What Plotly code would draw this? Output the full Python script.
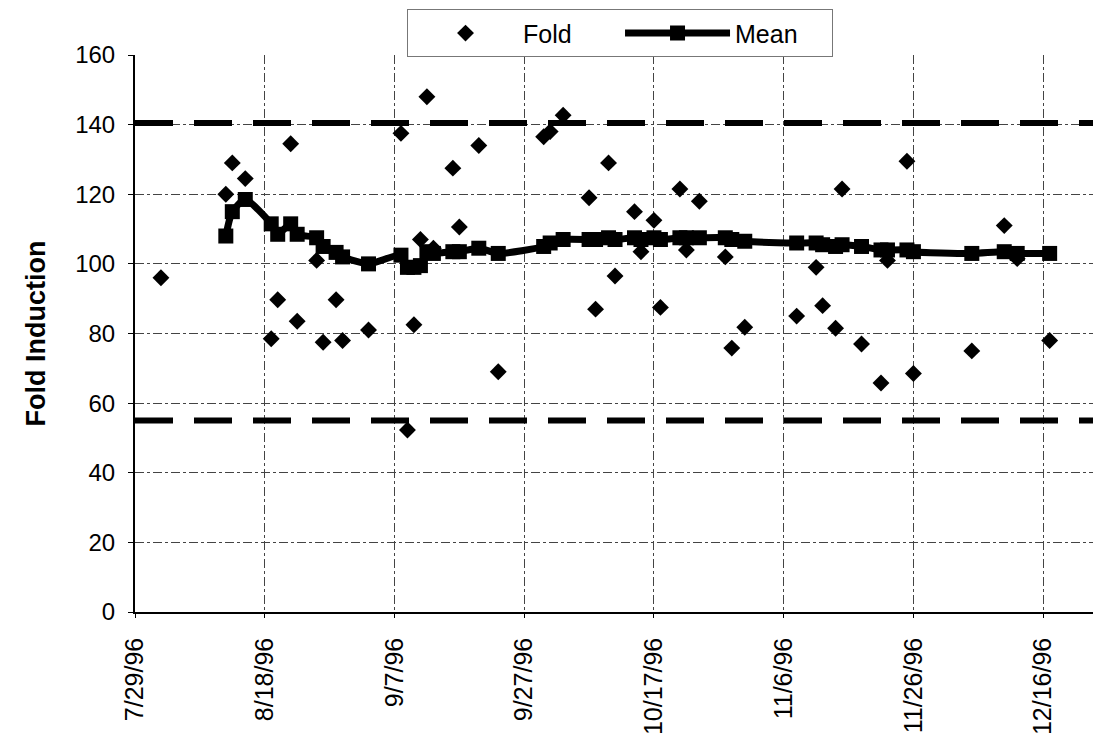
import plotly.graph_objects as go
import pandas as pd

# ---- data ----
fold_dates = ['8/2', '8/12', '8/13', '8/15', '8/19', '8/20', '8/22', '8/23', '8/26', '8/27',
              '8/29', '8/30', '9/3', '9/8', '9/9', '9/10', '9/11', '9/12', '9/13', '9/16',
              '9/17', '9/20', '9/23', '9/30', '10/1', '10/3', '10/7', '10/8', '10/10', '10/11',
              '10/14', '10/15', '10/17', '10/18', '10/21', '10/22', '10/24', '10/28', '10/29', '10/31',
              '11/8', '11/11', '11/12', '11/14', '11/15', '11/18', '11/21', '11/22', '11/25', '11/26',
              '12/5', '12/10', '12/12', '12/17']
fold_values = [96, 120, 129, 124.5, 78.5, 89.7, 134.5, 83.5, 101, 77.5,
               89.7, 78, 81, 137.5, 52.3, 82.5, 107, 148, 104.5, 127.5,
               110.6, 134, 69, 136.5, 138, 142.7, 119, 87, 129, 96.5,
               115, 103.5, 112.5, 87.5, 121.5, 104, 118, 102, 75.8, 81.8,
               85, 99, 88, 81.5, 121.5, 77, 65.8, 101, 129.5, 68.5,
               75, 111, 101.5, 78]

mean_dates = fold_dates[1:]
mean_values = [108, 115, 118.5, 111.5, 108.5, 111.5, 108.5, 107.5, 105,
               103.3, 102, 100, 102.5, 99, 99, 99.5, 103.5, 103, 103.5,
               103.5, 104.5, 103, 105, 106, 107, 107, 107, 107.5, 107,
               107.5, 107, 107.5, 107, 107.5, 107.5, 107.5, 107.5, 107, 106.5,
               106, 106, 105.5, 105, 105.5, 105, 104, 104, 104, 103.5,
               103, 103.5, 103, 103]

x_tick_dates = ['7/29', '8/18', '9/7', '9/27', '10/17', '11/6', '11/26', '12/16']
x_tick_labels = ['7/29/96', '8/18/96', '9/7/96', '9/27/96', '10/17/96', '11/6/96', '11/26/96', '12/16/96']
y_tick_values = [0, 20, 40, 60, 80, 100, 120, 140, 160]

upper_limit = 140.5
lower_limit = 55


def to_dt(lst):
    return pd.to_datetime([d + '/96' for d in lst], format='%m/%d/%y')


FONT = 'Arial, Liberation Sans, sans-serif'

fig = go.Figure()

fig.add_trace(go.Scatter(
    x=to_dt(fold_dates), y=fold_values, mode='markers', name='Fold',
    marker=dict(symbol='diamond', size=13, color='black'),
))
fig.add_trace(go.Scatter(
    x=to_dt(mean_dates), y=mean_values, mode='lines+markers', name='Mean',
    line=dict(color='black', width=7, shape='spline', smoothing=0.6),
    marker=dict(symbol='square', size=15, color='black'),
))

for lim in (upper_limit, lower_limit):
    fig.add_hline(y=lim, line=dict(color='black', width=6, dash='38px,21px'), layer='above')

fig.update_layout(
    width=1101, height=735,
    margin=dict(l=127, r=8, t=47, b=131, autoexpand=False),
    plot_bgcolor='white', paper_bgcolor='white',
    font=dict(family=FONT, color='black'),
    showlegend=True,
    legend=dict(
        orientation='h', x=0.2816, y=1.082, xanchor='left', yanchor='top',
        font=dict(size=25, family=FONT), bgcolor='white',
        bordercolor='#777', borderwidth=1, itemwidth=105, entrywidth=92,
    ),
)

fig.update_xaxes(
    type='date',
    range=['1996-07-29', '1996-12-24 22:00'],
    tickvals=to_dt(x_tick_dates), ticktext=x_tick_labels,
    tickangle=-90, tickfont=dict(size=25, family=FONT),
    ticklabelstandoff=10,
    showgrid=True, gridcolor='#444', gridwidth=1, griddash='dashdot',
    showline=True, linecolor='black', linewidth=1.5,
    ticks='outside', ticklen=4, tickcolor='black',
    zeroline=False,
)
fig.update_yaxes(
    range=[0, 160], tickvals=y_tick_values,
    tickfont=dict(size=24, family=FONT),
    ticklabelstandoff=8,
    title=dict(text='<b>Fold Induction</b>', font=dict(size=27, family=FONT), standoff=22),
    showgrid=True, gridcolor='#444', gridwidth=1, griddash='dashdot',
    showline=True, linecolor='black', linewidth=2,
    ticks='outside', ticklen=5, tickcolor='black',
    zeroline=False,
)

fig.write_html('out.html')
